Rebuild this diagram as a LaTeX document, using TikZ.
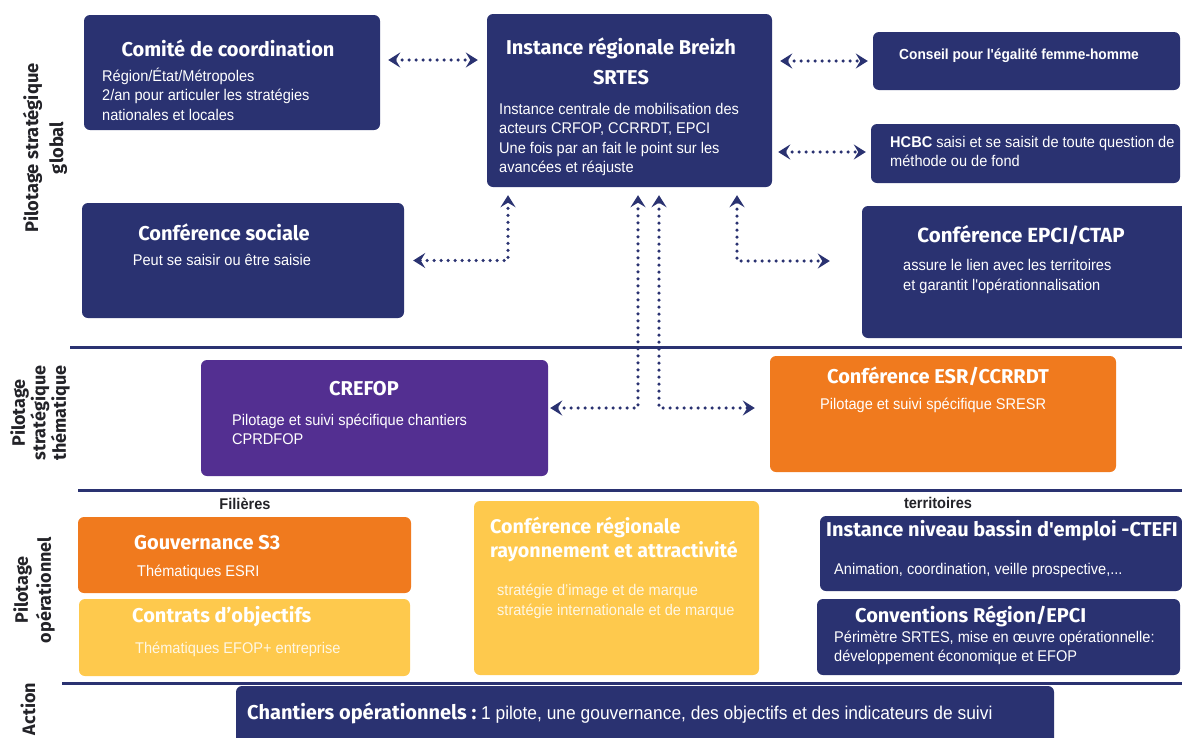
\documentclass[tikz,border=0pt]{standalone}
\usepackage{fontspec}
\setmainfont[Ligatures=TeXOff]{Fira Sans}
\newfontfamily\cf[FakeStretch=0.94,Ligatures=TeXOff]{Liberation Sans}
\usetikzlibrary{arrows.meta}
\definecolor{navy}{RGB}{42,50,113}
\definecolor{purp}{RGB}{83,47,145}
\definecolor{orng}{RGB}{240,122,30}
\definecolor{yell}{RGB}{254,201,77}
\definecolor{ink}{RGB}{35,35,40}
\tikzset{
  box/.style={rectangle, rounded corners=6pt, inner sep=0pt, draw=none},
  navybox/.style={box, fill=navy},
  purpbox/.style={box, fill=purp},
  orngbox/.style={box, fill=orng},
  yellbox/.style={box, fill=yell},
  ttl/.style={text=white, inner sep=0pt, font=\bfseries\fontsize{20}{24}\selectfont},
  bdy/.style={text=white, inner sep=0pt, align=left, font=\cf\fontsize{15.5}{19.5}\selectfont},
  side/.style={text=ink, inner sep=0pt, align=center, rotate=90},
  sep/.style={draw=navy, line width=3pt},
  dots/.style={draw=navy, line width=3.6pt, dash pattern=on 0pt off 7pt, line cap=round,
     arrows={Stealth[length=12pt,width=15pt,inset=4.5pt]-Stealth[length=12pt,width=15pt,inset=4.5pt]}},
}
\begin{document}
\begin{tikzpicture}[x=1pt,y=-1pt]
\useasboundingbox (0,0) rectangle (1182,737);
% separators
\draw[sep] (70,347) -- (1182,347);
\draw[sep] (78,490) -- (1182,490);
\draw[sep] (62,683) -- (1182,683);
% side labels
\node[side, font=\bfseries\fontsize{18.3}{25}\selectfont] (l1) at (45,148) {Pilotage stratégique\\global};
\node[side, font=\bfseries\fontsize{18}{20.5}\selectfont] (l2) at (40,413) {Pilotage\\stratégique\\thématique};
\node[side, font=\bfseries\fontsize{18}{23}\selectfont] (l3) at (34,590) {Pilotage\\opérationnel};
\node[side, font=\bfseries\fontsize{18}{23}\selectfont] (l4) at (28,709) {Action};
% boxes
\node[navybox, minimum width=296pt, minimum height=115pt] (comite) at (232,72.5) {};
\node[navybox, minimum width=285pt, minimum height=173pt] (instance) at (629.5,100.5) {};
\node[navybox, minimum width=307pt, minimum height=58pt] (conseil) at (1026.5,61) {};
\node[navybox, minimum width=309pt, minimum height=59pt] (hcbc) at (1025.5,153.5) {};
\node[navybox, minimum width=322pt, minimum height=115pt] (sociale) at (243,260.5) {};
\node[navybox, minimum width=326pt, minimum height=132pt] (epci) at (1025,272) {};
\node[purpbox, minimum width=347pt, minimum height=116pt] (crefop) at (374.5,418) {};
\node[orngbox, minimum width=346pt, minimum height=116pt] (esr) at (943,414) {};
\node[orngbox, minimum width=333pt, minimum height=76pt] (gouv) at (244.5,555) {};
\node[yellbox, minimum width=331pt, minimum height=77pt] (contrats) at (244.5,637.5) {};
\node[yellbox, minimum width=285pt, minimum height=174pt] (confreg) at (616.5,588) {};
\node[navybox, minimum width=362pt, minimum height=75pt] (ctefi) at (1001,553.5) {};
\node[navybox, minimum width=363pt, minimum height=76pt] (conv) at (998.5,637) {};
\node[navybox, minimum width=818pt, minimum height=64pt] (chantiers) at (645,718) {};
% texts
\node[ttl] (t1) at (228,48) {Comité de coordination};
\node[bdy, anchor=west] (b1) at (102,94) {Région/État/Métropoles\\2/an pour articuler les stratégies\\nationales et locales};
\node[ttl, align=center, font=\bfseries\fontsize{20}{30}\selectfont] (t2) at (621,61) {Instance régionale Breizh\\SRTES};
\node[bdy, anchor=west] (b2) at (499,139.5) {Instance centrale de mobilisation des\\acteurs CRFOP, CCRRDT, EPCI\\Une fois par an fait le point sur les\\avancées et réajuste};
\node[bdy, anchor=west, font=\cf\bfseries\fontsize{14.6}{19.5}\selectfont] (t3) at (899,56) {Conseil pour l'égalité femme-homme};
\node[bdy, anchor=west] (b4) at (890,151.5) {\textbf{HCBC} saisi et se saisit de toute question de\\méthode ou de fond};
\node[ttl] (t5) at (224,232) {Conférence sociale};
\node[bdy] (b5) at (222,260) {Peut se saisir ou être saisie};
\node[ttl, font=\bfseries\fontsize{20.5}{24}\selectfont] (t6) at (1021,235) {Conférence EPCI/CTAP};
\node[bdy, anchor=west] (b6) at (903,276.5) {assure le lien avec les territoires\\et garantit l'opérationnalisation};
\node[ttl, font=\bfseries\fontsize{20}{24}\selectfont] (t7) at (364,389) {CREFOP};
\node[bdy, anchor=west] (b7) at (232,429.5) {Pilotage et suivi spécifique chantiers\\CPRDFOP};
\node[ttl] (t8) at (938,376) {Conférence ESR/CCRRDT};
\node[bdy, anchor=west] (b8) at (820,405) {Pilotage et suivi spécifique SRESR};
\node[bdy, text=ink, font=\cf\bfseries\fontsize{15.5}{18}\selectfont] (f1) at (245,504) {Filières};
\node[bdy, text=ink, font=\cf\bfseries\fontsize{15.5}{18}\selectfont] (f2) at (938,503) {territoires};
\node[ttl, anchor=west] (t9) at (134,543) {Gouvernance S3};
\node[bdy, anchor=west] (b9) at (137,572) {Thématiques ESRI};
\node[ttl, anchor=west] (t10) at (132,617) {Contrats d’objectifs};
\node[bdy, anchor=west, text=white!85!yell] (b10) at (135,649) {Thématiques EFOP+ entreprise};
\node[ttl, anchor=west, align=left, font=\bfseries\fontsize{19.7}{24}\selectfont] (t11) at (490,539) {Conférence régionale\\rayonnement et attractivité};
\node[bdy, anchor=west, text=white!85!yell] (b11) at (497,601.5) {stratégie d’image et de marque\\stratégie internationale et de marque};
\node[ttl, anchor=west] (t12) at (826,531) {Instance niveau bassin d'emploi -CTEFI};
\node[bdy, anchor=west] (b12) at (834,570) {Animation, coordination, veille prospective,...};
\node[ttl, anchor=west] (t13) at (855,616) {Conventions Région/EPCI};
\node[bdy, anchor=west] (b13) at (834,648) {Périmètre SRTES, mise en œuvre opérationnelle:\\développement économique et EFOP};
\node[ttl, anchor=west, font=\bfseries\fontsize{20}{24}\selectfont] (t14) at (247,713) {Chantiers opérationnels :\ {\cf\mdseries\fontsize{18.5}{22}\selectfont 1 pilote, une gouvernance, des objectifs et des indicateurs de suivi}};
% connectors
\draw[dots] ([xshift=8pt,yshift=12.5pt]comite.east) -- ([xshift=-9pt,yshift=40.5pt]instance.west);
\draw[dots] ([xshift=8pt,yshift=39.5pt]instance.east) -- ([xshift=-5pt]conseil.west);
\draw[dots] ([xshift=6pt,yshift=-51.5pt]instance.east) -- ([xshift=-5pt,yshift=1.5pt]hcbc.west);
\draw[dots] ([xshift=9pt]sociale.east) -| ([xshift=-121.5pt,yshift=-8pt]instance.south);
\draw[dots] ([xshift=107.5pt,yshift=-8pt]instance.south) |- ([xshift=-32pt,yshift=11pt]epci.west);
\draw[dots] ([xshift=2pt,yshift=10pt]crefop.east) -| ([xshift=8.5pt,yshift=-8pt]instance.south);
\draw[dots] ([xshift=29.5pt,yshift=-8pt]instance.south) |- ([xshift=-15pt,yshift=6pt]esr.west);
\end{tikzpicture}
\end{document}
